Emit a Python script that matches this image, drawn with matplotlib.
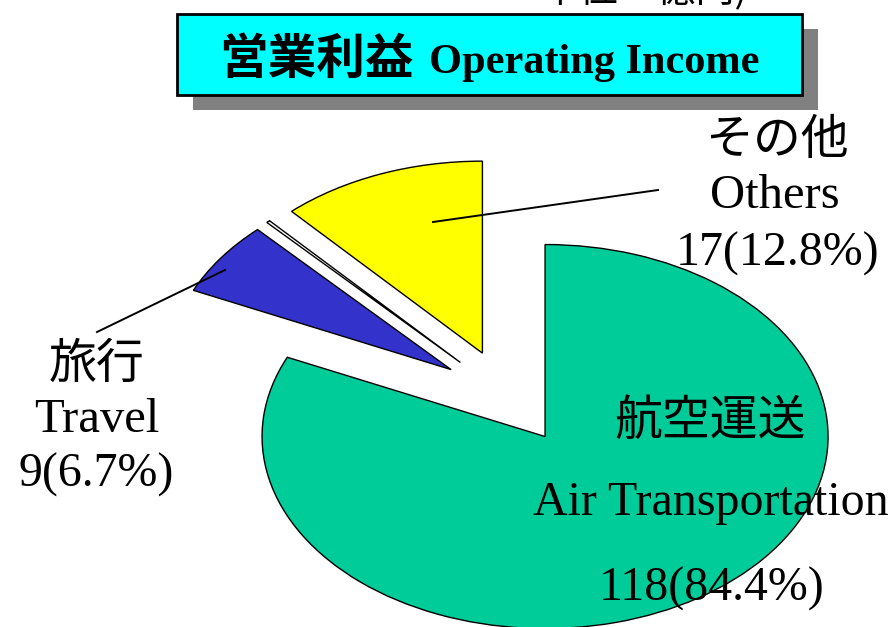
import matplotlib.pyplot as plt
from matplotlib.patches import Rectangle

# segment data (values drawn, share labels as printed on the chart)
segments = ["その他", "消去", "旅行", "航空運送"]
segments_en = ["Others", "", "Travel", "Air Transportation"]
values = [17, 0.3, 9, 118]
shares = ["17(12.8%)", "", "9(6.7%)", "118(84.4%)"]
colors = ["#FFFF00", "#FFFFFF", "#3333CC", "#00CC99"]
explode = [0.245, 0.245, 0.245, 0.245]

W, H = 895, 627
fig = plt.figure(figsize=(W / 100, H / 100), dpi=100)
fig.patch.set_facecolor("white")

# pie axes: unit circle squashed into an ellipse (rx=283px, ry=192px)
cx, cy, rx, ry = 507.5, 397.0, 283, 192
ax = fig.add_axes([(cx - rx) / W, (H - cy - ry) / H, 2 * rx / W, 2 * ry / H])
wedges, _ = ax.pie(values, colors=colors, explode=explode, startangle=90,
                   counterclock=True,
                   wedgeprops=dict(edgecolor="black", linewidth=1.0))
for w in wedges:
    w.set_clip_on(False)
ax.set_aspect("auto")
ax.set_xlim(-1, 1)
ax.set_ylim(-1, 1)
ax.axis("off")

# overlay in pixel coordinates for title box, labels and leader lines
ov = fig.add_axes([0, 0, 1, 1])
ov.set_xlim(0, W)
ov.set_ylim(H, 0)
ov.patch.set_alpha(0)
ov.axis("off")

jp = ["Noto Sans CJK JP", "DejaVu Sans"]
serif = ["Liberation Serif", "DejaVu Serif"]

# unit note, cut off at the top edge
ov.text(748, 2, "単位：億円)", family=jp, fontsize=28, ha="right",
        va="baseline", clip_on=False)

# title box with shadow
ov.add_patch(Rectangle((193, 29), 625, 81, facecolor="#808080",
                       edgecolor="none", zorder=1))
ov.add_patch(Rectangle((177, 13.5), 625, 81, facecolor="#00FFFF",
                       edgecolor="black", linewidth=2, zorder=2))
ov.text(219, 74, "営業利益", family=jp, fontsize=35, fontweight="bold",
        ha="left", va="baseline", zorder=3)
ov.text(429, 73, "Operating Income", family=serif, fontsize=30.5,
        fontweight="bold", ha="left", va="baseline", zorder=3)

# leader lines
ov.plot([433, 658], [222, 190], color="black", lw=1.4)
ov.plot([225, 97], [270, 332], color="black", lw=1.4)

# labels
ov.text(777, 140, segments[0], family=jp, fontsize=34.5, ha="center", va="center")
ov.text(775, 208, segments_en[0], family=serif, fontsize=35, ha="center", va="baseline")
ov.text(778, 266, shares[0], family=serif, fontsize=34.5, ha="center", va="baseline")

ov.text(97, 364, segments[2], family=jp, fontsize=34.5, ha="center", va="center")
ov.text(97, 432, segments_en[2], family=serif, fontsize=35, ha="center", va="baseline")
ov.text(96, 487, shares[2], family=serif, fontsize=34.5, ha="center", va="baseline")

ov.text(710, 421, segments[3], family=jp, fontsize=34.5, ha="center", va="center")
ov.text(711, 515, segments_en[3], family=serif, fontsize=34.5, ha="center", va="baseline")
ov.text(712, 601, shares[3], family=serif, fontsize=34.5, ha="center", va="baseline")

fig.savefig("out.png", dpi=100)
